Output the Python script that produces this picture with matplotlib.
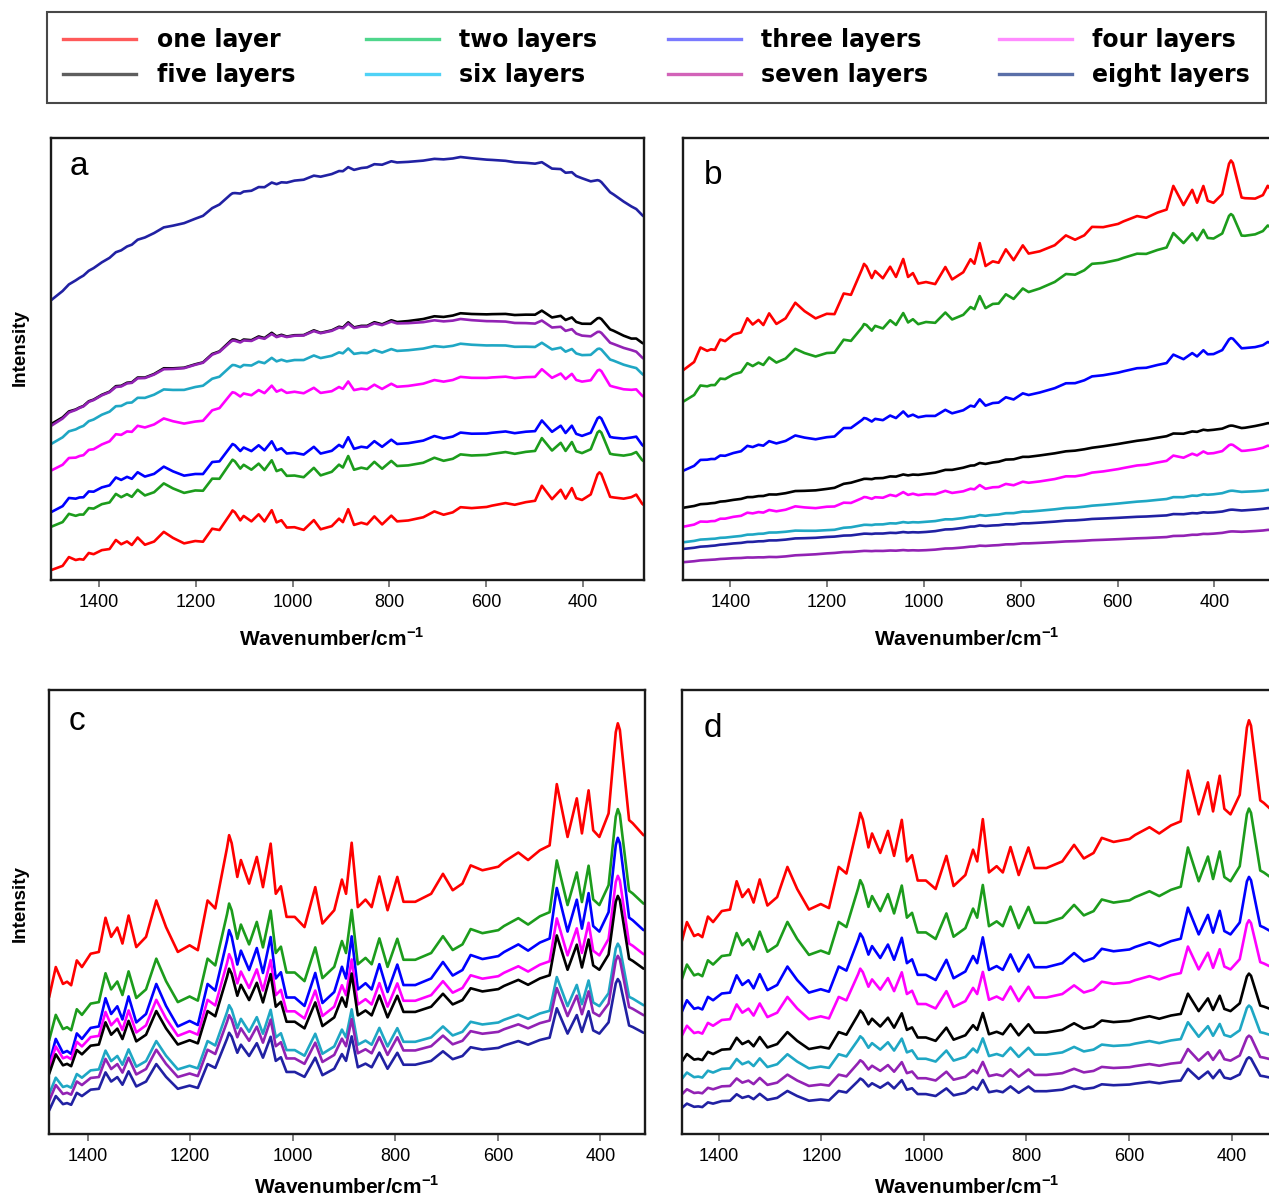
import matplotlib
matplotlib.use("Agg")
import matplotlib.pyplot as plt
import numpy as np
from matplotlib.lines import Line2D

# --- series ---
LAYER_NAMES = ["one layer", "two layers", "three layers", "four layers",
               "five layers", "six layers", "seven layers", "eight layers"]
LINE_COLORS = ["#ff0000", "#1c9c1c", "#0000ff", "#ff00ff",
               "#000000", "#1fa7c4", "#9222b4", "#2121a3"]
LEGEND_COLORS = ["#ff5a5a", "#4fd68c", "#7a7aff", "#ff8cff",
                 "#5e5e5e", "#4fd2f6", "#d263b8", "#5a6fa8"]
LEGEND_ORDER = [0, 4, 1, 5, 2, 6, 3, 7]  # legend fills column by column

# reference spectrum (panel c, one layer)
SPEC_WN = [1499, 1475, 1462, 1448, 1440, 1432, 1421, 1411, 1394, 1378,
           1365, 1354, 1342, 1332, 1320, 1305, 1286, 1266, 1247, 1224,
           1201, 1185, 1166, 1151, 1128, 1124, 1119, 1108, 1101, 1085, 1070, 1058,
           1043, 1033, 1023, 1012, 996, 977, 956, 942, 919, 904,
           896, 885, 873, 858, 846, 831, 815, 796, 784, 761,
           730, 707, 688, 669, 653, 630, 599, 588, 560, 541,
           518, 499, 485, 464, 446, 436, 423, 414, 402, 384,
           370, 366, 362, 344, 337, 316, 300, 290, 278, 275]
SPEC_VAL = [29.0, 30.8, 37.6, 33.8, 34.3, 33.5, 39.1, 37.6, 40.6, 41.0,
            48.7, 44.4, 46.5, 42.9, 49.2, 42.1, 44.4, 52.6, 46.6, 41.0,
            42.5, 41.4, 52.6, 50.8, 64.5, 67.3, 65.5, 57.9, 61.7, 56.4, 62.4, 55.6,
            65.4, 54.1, 55.8, 48.9, 48.9, 46.6, 55.6, 47.4, 50.4, 57.3,
            54.1, 65.6, 51.1, 52.8, 51.1, 58.0, 50.4, 57.9, 52.3, 52.3,
            54.1, 58.6, 54.9, 56.4, 60.5, 59.4, 60.2, 61.3, 63.4, 61.7,
            63.9, 65.0, 78.8, 66.9, 75.6, 67.7, 77.4, 68.4, 66.9, 72.2,
            90.5, 92.5, 91.0, 70.7, 70.0, 67.3, 67.5, 72.0, 66.5, 66.0]

# background knots (valley level) shared by panels a and b
KNOT_WN = [1500, 1450, 1400, 1300, 1190, 1160, 1130, 1000,
           900, 800, 650, 500, 400, 340, 300, 275]
SPEC_BASE = [29.0, 33.0, 39.0, 42.0, 41.3, 48.0, 50.5, 47.5,
             49.0, 51.0, 58.5, 64.5, 66.5, 67.5, 67.3, 66.0]

# panel a: background of each layer at KNOT_WN
A_BASE = [
    [2.2, 4.3, 6.3, 8.0, 8.6, 10.5, 11.5, 11.6, 11.8, 12.8, 16.0, 17.8, 18.0, 18.0, 18.7, 17.0],
    [12.0, 14.3, 16.7, 19.2, 20.1, 22.0, 23.5, 23.3, 24.3, 25.4, 28.0, 29.1, 28.6, 27.8, 28.4, 26.9],
    [15.3, 18.2, 20.5, 23.5, 23.8, 26.0, 27.5, 28.5, 29.0, 30.4, 33.0, 33.6, 32.5, 31.7, 32.2, 30.3],
    [24.7, 27.5, 30.2, 34.7, 35.8, 38.0, 40.0, 42.4, 42.5, 43.4, 45.7, 45.9, 44.8, 43.4, 43.0, 41.5],
    [35.2, 38.4, 41.5, 46.0, 49.0, 51.0, 52.8, 55.2, 56.6, 58.1, 60.2, 60.0, 57.9, 56.3, 54.6, 53.5],
    [30.7, 33.9, 37.0, 41.4, 43.8, 45.3, 47.0, 49.6, 50.8, 51.6, 53.3, 52.7, 50.8, 49.5, 48.2, 46.4],
    [34.8, 38.3, 41.4, 45.9, 48.9, 50.9, 52.7, 55.1, 56.5, 57.9, 58.9, 58.0, 55.2, 53.3, 52.0, 50.1],
    [63.2, 67.6, 71.4, 77.8, 82.1, 84.2, 86.3, 90.2, 92.1, 94.3, 95.6, 94.2, 90.8, 87.3, 84.5, 82.3],
]
A_GAIN = [0.25, 0.22, 0.19, 0.14, 0.09, 0.09, 0.08, 0.06]

# panel b
B_BASE = [
    [47.3, 51.5, 54.8, 58.0, 60.0, 63.2, 65.0, 66.8, 69.5, 73.0, 79.2, 83.6, 85.2, 85.3, 87.0, 87.5],
    [40.2, 43.6, 46.0, 49.3, 51.3, 53.5, 54.0, 58.0, 60.0, 64.3, 71.2, 75.1, 77.2, 77.2, 78.9, 79.3],
    [24.6, 27.1, 28.4, 31.0, 32.3, 34.0, 34.5, 36.9, 38.5, 41.3, 45.9, 49.0, 51.1, 52.1, 53.1, 53.4],
    [12.0, 13.1, 14.1, 15.6, 16.6, 17.2, 17.5, 19.3, 20.1, 21.7, 24.2, 26.9, 28.7, 29.0, 29.9, 30.2],
    [16.3, 17.2, 18.0, 19.4, 20.7, 21.8, 22.3, 23.9, 25.7, 27.6, 29.9, 32.5, 34.0, 34.3, 35.2, 35.5],
    [8.5, 9.2, 9.7, 10.8, 11.3, 11.8, 12.1, 13.1, 14.2, 15.3, 16.8, 18.3, 19.4, 19.9, 20.2, 20.4],
    [4.0, 4.5, 4.9, 5.2, 6.1, 6.3, 6.4, 6.7, 7.5, 8.2, 9.0, 9.7, 10.5, 10.9, 11.2, 11.4],
    [7.0, 7.6, 8.2, 9.0, 9.8, 10.0, 10.2, 10.8, 12.0, 12.7, 13.8, 14.6, 15.3, 15.7, 16.1, 16.3],
]
B_GAIN = [0.38, 0.22, 0.12, 0.07, 0.03, 0.02, 0.01, 0.015]

# panels c and d: each layer is the reference spectrum shifted and scaled
C_OFFSET = [0.0, -4.9, -9.6, -6.6, -6.5, -8.0, -8.9, -9.5]
C_GAIN = [1.0, 0.844, 0.825, 0.70, 0.65, 0.55, 0.53, 0.48]
D_OFFSET = [16.6, 14.1, 11.1, 8.1, 5.6, 3.5, 1.8, -0.3]
D_GAIN = [0.828, 0.64, 0.506, 0.433, 0.33, 0.275, 0.22, 0.19]

TICKS = [1400, 1200, 1000, 800, 600, 400]

W, H = 1269, 1196
plt.rcParams["mathtext.fontset"] = "custom"
plt.rcParams["mathtext.rm"] = "Liberation Sans"
plt.rcParams["mathtext.bf"] = "Liberation Sans:bold"

wn = np.array(SPEC_WN, dtype=float)
val = np.array(SPEC_VAL, dtype=float)
knots = np.array(KNOT_WN, dtype=float)[::-1]
peaks = val - np.interp(wn, knots, np.array(SPEC_BASE)[::-1])


def panel_axes(fig, left, right, top, bottom):
    return fig.add_axes([left / W, 1 - bottom / H, (right - left) / W, (bottom - top) / H])


def style_axes(ax, xlim, letter, letter_xy, xlabel_xy, ylabel_xy=None):
    ax.set_xlim(*xlim)
    ax.set_ylim(0, 100)
    ax.set_xticks(TICKS)
    ax.set_yticks([])
    ax.tick_params(axis="x", direction="out", length=5, width=1.2, color="#666666",
                   labelsize=13, pad=5)
    for lab in ax.get_xticklabels():
        lab.set_fontfamily("Liberation Sans")
    for sp in ax.spines.values():
        sp.set_linewidth(1.7)
        sp.set_color("#1a1a1a")
    ax.set_xlabel(r"Wavenumber/cm$^{\mathbf{-1}}$", fontsize=15, fontweight="bold",
                  family="Liberation Sans")
    ax.xaxis.set_label_coords(*xlabel_xy)
    ax.xaxis.label.set_va("top")
    if ylabel_xy:
        ax.set_ylabel("Intensity", fontsize=13.5, fontweight="bold", family="Liberation Sans")
        ax.yaxis.set_label_coords(*ylabel_xy)
    ax.text(letter_xy[0], letter_xy[1], letter, transform=ax.transAxes, fontsize=24,
            family="Liberation Sans", va="baseline", ha="left")


fig = plt.figure(figsize=(W / 100, H / 100), dpi=100)

ax_a = panel_axes(fig, 51, 643.5, 138, 580)
ax_b = panel_axes(fig, 682.5, 1275, 138, 580)
ax_c = panel_axes(fig, 48.6, 645, 690, 1134)
ax_d = panel_axes(fig, 682.3, 1278.7, 690, 1134)

line_kw = dict(lw=1.9, solid_joinstyle="round", solid_capstyle="round")
for i in range(8):
    base_a = np.interp(wn, knots, np.array(A_BASE[i])[::-1])
    ax_a.plot(wn, base_a + A_GAIN[i] * peaks, color=LINE_COLORS[i], **line_kw)
    base_b = np.interp(wn, knots, np.array(B_BASE[i])[::-1])
    ax_b.plot(wn, base_b + B_GAIN[i] * peaks, color=LINE_COLORS[i], **line_kw)
    ax_c.plot(wn, C_OFFSET[i] + C_GAIN[i] * val, color=LINE_COLORS[i], **line_kw)
    ax_d.plot(wn, D_OFFSET[i] + D_GAIN[i] * val, color=LINE_COLORS[i], **line_kw)

style_axes(ax_a, (1499, 275), "a", (0.032, 0.916), (0.474, -47 / 442), (-0.038, 0.525))
style_axes(ax_b, (1499, 275), "b", (0.036, 0.896), (0.480, -47 / 442))
style_axes(ax_c, (1476, 313), "c", (0.033, 0.910), (0.500, -41 / 444), (-0.034, 0.518))
style_axes(ax_d, (1471, 308), "d", (0.036, 0.894), (0.477, -41 / 444))

handles = [Line2D([], [], color=LEGEND_COLORS[i], lw=2.4) for i in LEGEND_ORDER]
labels = [LAYER_NAMES[i] for i in LEGEND_ORDER]
leg = fig.legend(handles, labels, loc="upper left", bbox_to_anchor=(47 / W, 1 - 12 / H),
                 ncol=4, prop={"weight": "bold", "size": 17, "family": "DejaVu Sans"},
                 handlelength=3.1, handletextpad=0.85, columnspacing=3.0, labelspacing=0.445,
                 borderpad=0.69, borderaxespad=0, fancybox=False, frameon=True)
leg.get_frame().set_edgecolor("#1a1a1a")
leg.get_frame().set_linewidth(1.5)

fig.savefig("out.png", dpi=100)
